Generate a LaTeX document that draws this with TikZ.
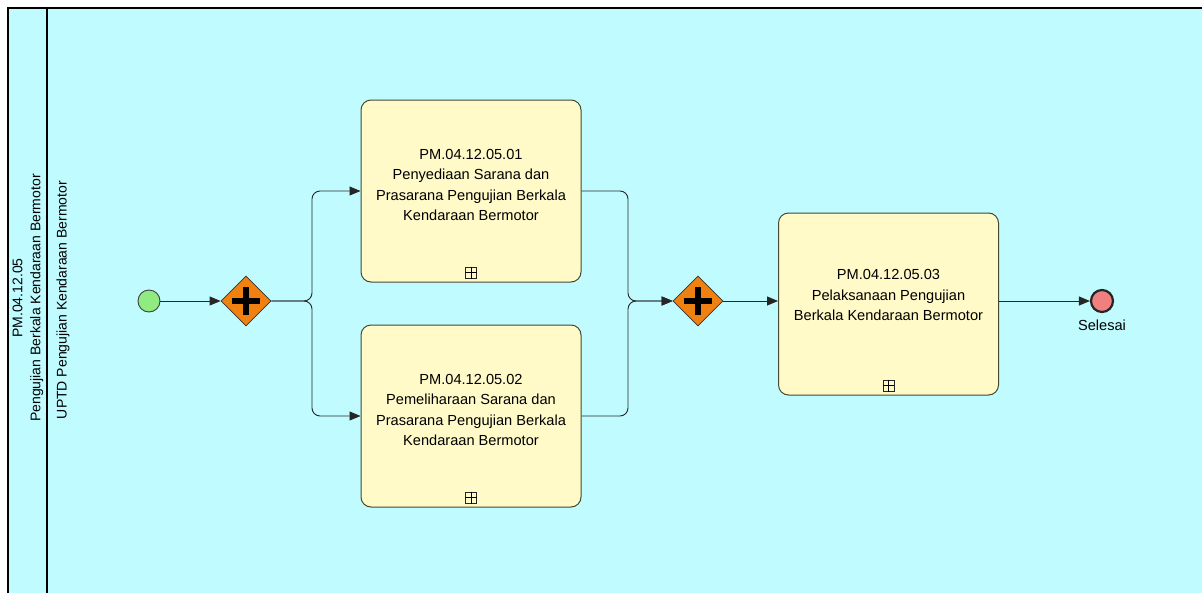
\documentclass[tikz,border=0pt]{standalone}
\usepackage{fontspec}
\setmainfont{Liberation Sans}
\usetikzlibrary{arrows.meta,shapes.geometric}
\definecolor{poolfill}{RGB}{192,252,255}
\definecolor{taskfill}{RGB}{255,250,200}
\definecolor{taskline}{RGB}{70,72,50}
\definecolor{gatefill}{RGB}{240,128,16}
\definecolor{startfill}{RGB}{144,236,128}
\definecolor{endfill}{RGB}{240,128,128}
\begin{document}
\begin{tikzpicture}[x=1pt,y=-1pt,
  every node/.style={font=\fontsize{14.6}{20.5}\selectfont},
  task/.style={draw=taskline, line width=1pt, fill=taskfill, rounded corners=10pt,
    minimum width=220pt, minimum height=182pt, inner sep=0pt},
  tasktext/.style={align=center, inner sep=0pt},
  gate/.style={diamond, draw=black!80, line width=0.8pt, fill=gatefill,
    minimum width=50pt, minimum height=50pt, inner sep=0pt},
  flow/.style={draw=black!85, line width=0.9pt, rounded corners=8pt,
    -{Triangle[length=11pt,width=9pt]}}]
  \useasboundingbox (0,0) rectangle (1202,592);
  % pool and lane
  \fill[white] (0,0) rectangle (1202,592);
  \draw[line width=1.2pt, fill=poolfill] (8,8) -- (1206,8) -- (1206,600) -- (8,600) -- cycle;
  \draw[line width=1.4pt] (47,8) -- (47,600);
  \node[rotate=90, align=center, font=\fontsize{14}{18}\selectfont] (pool) at (28,298)
    {PM.04.12.05\\Pengujian Berkala Kendaraan Bermotor};
  \node[rotate=90, font=\fontsize{14}{18}\selectfont] (lane) at (63,300)
    {UPTD Pengujian Kendaraan Bermotor};
  % events and gateways
  \node[circle, draw=black!75, line width=0.9pt, fill=startfill, minimum size=22pt,
    inner sep=0pt] (start) at (149,301) {};
  \node[gate] (split) at (246,301) {};
  \node[gate] (join) at (698,301) {};
  \node[circle, draw=black!85, line width=2.2pt, fill=endfill, minimum size=22pt,
    inner sep=0pt] (stop) at (1102,301) {};
  \node[below=3pt] (stoplbl) at (stop.south) {Selesai};
  \foreach \g in {split,join} {
    \draw[line width=5.5pt] ([xshift=-14pt]\g.center) -- ([xshift=14pt]\g.center);
    \draw[line width=5.5pt] ([yshift=-14pt]\g.center) -- ([yshift=14pt]\g.center);
  }
  % tasks
  \node[task] (t1) at (471,191) {};
  \node[task] (t2) at (471,416) {};
  \node[task] (t3) at (888.5,304) {};
  \node[tasktext] (t1text) at ([yshift=6pt]t1.center)
    {PM.04.12.05.01\\Penyediaan Sarana dan\\Prasarana Pengujian Berkala\\Kendaraan Bermotor};
  \node[tasktext] (t2text) at ([yshift=6pt]t2.center)
    {PM.04.12.05.02\\Pemeliharaan Sarana dan\\Prasarana Pengujian Berkala\\Kendaraan Bermotor};
  \node[tasktext] (t3text) at ([yshift=9pt]t3.center)
    {PM.04.12.05.03\\Pelaksanaan Pengujian\\Berkala Kendaraan Bermotor};
  \foreach \t in {t1,t2,t3} {
    \node[draw=black!85, line width=0.8pt, fill=taskfill, minimum size=11pt, inner sep=0pt,
      above=4pt] (\t mark) at (\t.south) {};
    \draw[line width=0.8pt] (\t mark.north) -- (\t mark.south)
      (\t mark.west) -- (\t mark.east);
  }
  % sequence flows
  \draw[flow] (start) -- (split);
  \draw[flow] (split.east) -- (312,301) |- (t1.west);
  \draw[flow] (split.east) -- (312,301) |- (t2.west);
  \draw[flow] (t1.east) -| (628,301) -- (join.west);
  \draw[flow] (t2.east) -| (628,301) -- (join.west);
  \draw[flow] (join) -- (t3.west |- join);
  \draw[flow] (t3.east |- join) -- (stop);
\end{tikzpicture}
\end{document}
